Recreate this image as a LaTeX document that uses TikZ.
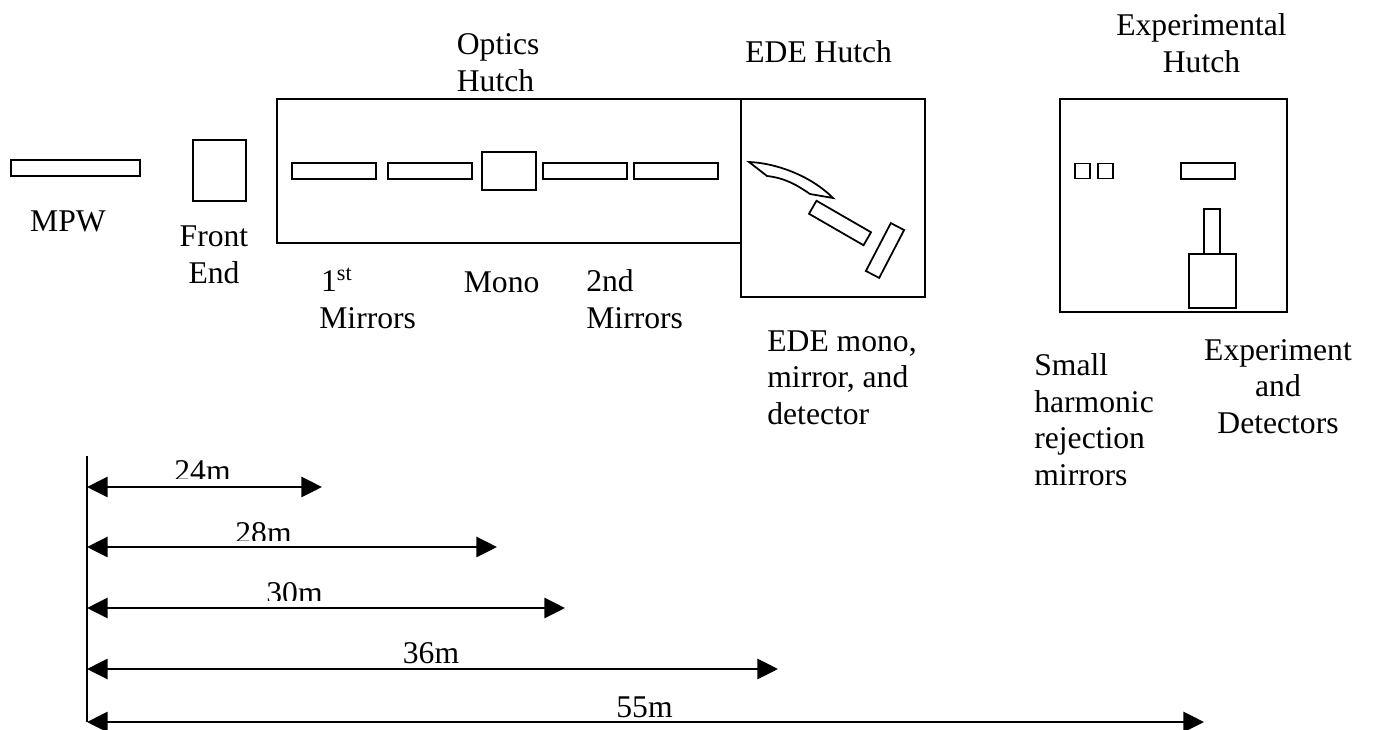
\documentclass[tikz,border=0pt]{standalone}
\usepackage{fontspec}
\setmainfont{Liberation Serif}
\usetikzlibrary{arrows.meta,positioning}
\tikzset{
    hutchbox/.style={
        rectangle,
        draw,
        line width=1pt,
        inner sep=0pt,
        outer sep=0pt
    },
    mirrorbox/.style={
        hutchbox,
        minimum width=1.68cm,
        minimum height=0.32cm
    },
    smallbox/.style={
        hutchbox,
        minimum width=0.3cm,
        minimum height=0.3cm
    },
    tag/.style={
        align=center,
        anchor=base,
        inner sep=0pt,
        font=\fontsize{18}{20.75}\selectfont
    },
    lefttag/.style={
        tag,
        align=left,
        anchor=base west
    },
    span/.style={
        {Triangle[length=11.7pt,width=11.5pt]}-{Triangle[length=11.7pt,width=11.5pt]},
        line width=1pt
    }
}
\begin{document}
\begin{tikzpicture}[x=0.02cm,y=-0.02cm]
    \useasboundingbox (0,0) rectangle (1380,730);
    % Source and front end
    \node[hutchbox,minimum width=2.58cm,minimum height=0.32cm] (mpw) at (75.5,168) {};
    \node[hutchbox,minimum width=1.06cm,minimum height=1.22cm] (front_end) at (219.5,170.5) {};
    \node[tag] (mpw_label) at (68,231) {MPW};
    \node[tag] (front_label) at (214,283) {Front\\End};

    % Optics hutch
    \node[hutchbox,minimum width=9.28cm,minimum height=2.88cm] (optics) at (509,171) {};
    \node[mirrorbox] (mirror_a) at (334,171) {};
    \node[mirrorbox] (mirror_b) at (430,171) {};
    \node[hutchbox,minimum width=1.08cm,minimum height=0.76cm] (mono) at (509,171) {};
    \node[mirrorbox] (mirror_c) at (585,171) {};
    \node[mirrorbox] (mirror_d) at (676,171) {};
    \node[lefttag] (optics_label) at (456.5,91) {Optics\\Hutch};
    \node[lefttag] (first_label) at (319,328) {\hspace*{1pt}1\textsuperscript{st}\\Mirrors};
    \node[lefttag] (mono_label) at (463.5,292) {Mono};
    \node[lefttag] (second_label) at (586,328) {2nd\\Mirrors};

    % EDE hutch
    \node[hutchbox,minimum width=3.68cm,minimum height=3.96cm] (ede) at (833,198) {};
    \draw[line width=1pt] (749,162) .. controls (775,163) and (810,175) .. (833,198)
        -- (810,194) .. controls (797,185) and (785,178) .. (767,176) -- cycle;
    \node[hutchbox,rotate=-30,minimum width=1.26cm,minimum height=0.3cm] (ede_mirror) at (840,223) {};
    \node[hutchbox,rotate=62.5,minimum width=1.08cm,minimum height=0.3cm] (ede_detector) at (885,250.5) {};
    \node[lefttag] (ede_label) at (745,62) {EDE Hutch};
    \node[lefttag] (ede_parts) at (767,424) {EDE mono,\\mirror, and\\detector};

    % Experimental hutch
    \node[hutchbox,minimum width=4.54cm,minimum height=4.26cm] (experimental) at (1173.5,205.5) {};
    \node[smallbox] (small_a) at (1082.5,171) {};
    \node[smallbox] (small_b) at (1105.5,171) {};
    \node[hutchbox,minimum width=1.08cm,minimum height=0.32cm] (exp_mirror) at (1208,171) {};
    \node[hutchbox,minimum width=0.32cm,minimum height=0.9cm] (exp_neck) at (1212,231.5) {};
    \node[hutchbox,minimum width=0.94cm,minimum height=1.08cm] (exp_body) at (1212.5,281) {};
    \node[tag] (exp_label) at (1201.5,72) {Experimental\\Hutch};
    \node[lefttag] (small_label) at (1034,485) {Small\\harmonic\\rejection\\mirrors};
    \node[tag] (exp_parts) at (1278,433) {Experiment\\and\\Detectors};

    % Distances
    \coordinate (rule_top) at (87,456);
    \coordinate (rule_bottom) at (87,722);
    \draw[line width=1pt] (rule_top) -- (rule_bottom);
    \foreach \dist/\ypos/\xend in {24/487/322,28/547/497,30/608/565,36/669/778,55/722/1204} {
        \coordinate (start\dist) at (87,\ypos);
        \coordinate (end\dist) at (\xend,\ypos);
        \draw[span] (start\dist) -- (end\dist);
    }
    \begin{scope}
        \clip (100,450) rectangle (600,478) (100,512) rectangle (600,540) (100,572) rectangle (600,600);
        \node[tag] (label24) at (202.5,481) {24m};
        \node[tag] (label28) at (263.5,543) {28m};
        \node[tag] (label30) at (294.5,603) {30m};
    \end{scope}
    \node[tag] (label36) at (431,663) {36m};
    \node[tag] (label55) at (644.5,717) {55m};
\end{tikzpicture}
\end{document}
